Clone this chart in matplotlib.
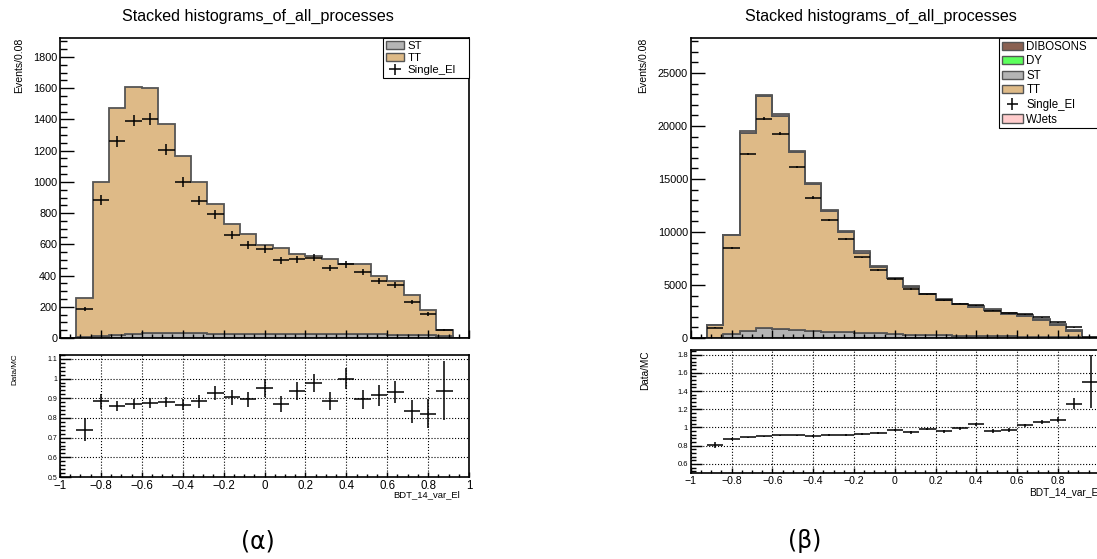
import numpy as np
import matplotlib.pyplot as plt
from matplotlib.patches import Patch
from matplotlib.ticker import MultipleLocator, FuncFormatter

plt.rcParams['font.family'] = ['Liberation Sans', 'DejaVu Sans']

# binning: 25 bins of 0.08 from -1 to 1
edges = np.round(np.linspace(-1.0, 1.0, 26), 2)
centers = 0.5 * (edges[:-1] + edges[1:])
nan = np.nan

# ---- (a) left canvas ----
st_a = [0, 8, 15, 22, 28, 33, 34, 32, 30, 28, 27, 26, 25, 25, 24, 24, 25, 24, 24, 23, 22, 20, 17, 10, 0]
tt_a = [0, 249, 987, 1451, 1582, 1570, 1336, 1135, 970, 828, 703, 642, 574, 549, 513, 500, 484,
        451, 451, 377, 344, 258, 165, 44, 0]
data_a = [0, 188, 884, 1259, 1393, 1404, 1205, 1002, 880, 792, 659, 595, 569, 499, 503, 514, 449,
          471, 422, 366, 342, 231, 152, 51, 0]
ratio_a = [nan, 0.741, 0.884, 0.860, 0.872, 0.877, 0.882, 0.867, 0.884, 0.928, 0.906, 0.894, 0.951,
           0.870, 0.938, 0.978, 0.884, 1.000, 0.894, 0.916, 0.933, 0.833, 0.822, 0.939, nan]
rerr_a = [nan, 0.058, 0.036, 0.027, 0.024, 0.024, 0.026, 0.029, 0.031, 0.037, 0.038, 0.039, 0.045,
          0.042, 0.046, 0.047, 0.046, 0.052, 0.048, 0.053, 0.056, 0.060, 0.075, 0.150, nan]

# ---- (b) right canvas ----
dib_b = [0, 1, 5, 10, 12, 12, 11, 10, 9, 8, 7, 6, 6, 5, 5, 5, 4, 4, 4, 3, 3, 3, 2, 1, 0]
dy_b = [0, 2, 15, 30, 35, 35, 30, 25, 22, 20, 18, 15, 13, 12, 10, 10, 9, 8, 8, 7, 6, 5, 4, 2, 0]
st_b = [0, 30, 315, 630, 870, 820, 725, 660, 580, 535, 470, 410, 350, 300, 260, 230, 200, 180, 160,
        140, 120, 100, 80, 50, 3]
tt_b = [0, 1155, 9348, 18705, 21907, 20097, 16771, 13825, 11365, 9428, 7553, 6248, 5248, 4485, 3839,
        3369, 2967, 2738, 2428, 2130, 1921, 1572, 1134, 637, 35]
wj_b = [0, 10, 60, 110, 130, 130, 120, 110, 100, 130, 150, 100, 90, 85, 80, 75, 70, 70, 100, 120, 130,
        150, 140, 100, 2]
data_b = [0, 967, 8535, 17360, 20705, 19260, 16120, 13240, 11110, 9310, 7600, 6386, 5540, 4620, 4120,
          3540, 3227, 3100, 2592, 2330, 2228, 1943, 1478, 994, 60]
ratio_b = [nan, 0.807, 0.876, 0.891, 0.902, 0.913, 0.913, 0.905, 0.920, 0.920, 0.927, 0.942, 0.971,
           0.945, 0.982, 0.960, 0.993, 1.033, 0.960, 0.971, 1.022, 1.062, 1.087, 1.258, 1.502]
rerr_b = [nan, 0.03, 0.01, 0.008, 0.007, 0.007, 0.008, 0.008, 0.009, 0.01, 0.011, 0.012, 0.013, 0.014,
          0.015, 0.016, 0.017, 0.018, 0.019, 0.02, 0.021, 0.024, 0.03, 0.06, 0.29]

colors = {'DIBOSONS': '#8a6152', 'DY': '#5cff5c', 'ST': '#b4b4b4', 'TT': '#deba87', 'WJets': '#ffcccc'}
line_col = '#555555'

W, H = 1097, 559
fig = plt.figure(figsize=(W / 100, H / 100), dpi=100)


def box(x0, y0, x1, y1):
    # pixel box -> figure fraction rect
    return [x0 / W, 1 - y1 / H, (x1 - x0) / W, (y1 - y0) / H]


def fmt(v, pos):
    s = '%g' % round(v, 6)
    return s.replace('-', '\u2212')


def style_axis(ax, xminor, ymajor, yminor, ylen, ymlen, xlen, xmlen, ylab, xlab):
    ax.set_xlim(-1, 1)
    ax.xaxis.set_major_locator(MultipleLocator(0.2))
    ax.xaxis.set_minor_locator(MultipleLocator(xminor))
    ax.yaxis.set_major_locator(MultipleLocator(ymajor))
    ax.yaxis.set_minor_locator(MultipleLocator(yminor))
    ax.tick_params(axis='y', which='major', direction='in', length=ylen, width=1.0, labelsize=ylab, pad=2)
    ax.tick_params(axis='y', which='minor', direction='in', length=ymlen, width=1.0)
    ax.tick_params(axis='x', which='major', direction='in', length=xlen, width=1.0, labelsize=xlab, pad=2.2)
    ax.tick_params(axis='x', which='minor', direction='in', length=xmlen, width=1.0)
    ax.yaxis.set_major_formatter(FuncFormatter(fmt))
    ax.xaxis.set_major_formatter(FuncFormatter(fmt))
    for s in ax.spines.values():
        s.set_linewidth(1.2)


def draw_canvas(top_rect, rat_rect, layers, data, ratio, rerr, ymax, ymaj, ymin,
                rlim, rmaj, rmin, label_sizes):
    ax = fig.add_axes(top_rect)
    axr = fig.add_axes(rat_rect)

    bottom = np.zeros(len(centers))
    handles = {}
    for name, vals in layers:
        top = bottom + np.array(vals, dtype=float)
        ax.stairs(top, edges, baseline=bottom, fill=True, facecolor=colors[name],
                  edgecolor=line_col, linewidth=1.3)
        handles[name] = Patch(facecolor=colors[name], edgecolor=line_col, linewidth=1.0)
        bottom = top

    d = np.array(data, dtype=float)
    m = d > 0
    eb = ax.errorbar(centers[m], d[m], xerr=0.04, yerr=np.sqrt(d[m]), fmt='none',
                     ecolor='black', elinewidth=1.1, capsize=0, zorder=5)
    handles['Single_El'] = eb

    ax.set_ylim(0, ymax)
    style_axis(ax, 0.05, ymaj, ymin, 10, 5, 6, 3, 7.8, 7)
    ax.tick_params(axis='x', labelbottom=False)

    axr.errorbar(centers, ratio, xerr=0.04, yerr=rerr, fmt='none', ecolor='black',
                 elinewidth=1.1, capsize=0, zorder=5)
    axr.set_ylim(*rlim)
    style_axis(axr, 0.05, rmaj, rmin, 8, 3.6, 3.6, 2, label_sizes[0], label_sizes[1])
    axr.grid(True, which='major', linestyle=':', color='black', linewidth=0.8)
    axr.set_axisbelow(True)
    return ax, axr, handles


def add_legend(ax, handles, order, x0, size, spacing, hlen):
    leg = ax.legend([handles[k] for k in order], order, loc='upper left',
                    bbox_to_anchor=(x0, 0, 1.0 - x0, 1.0), mode='expand', borderaxespad=0,
                    fontsize=size, frameon=True, fancybox=False, edgecolor='black', framealpha=1,
                    borderpad=0.25, labelspacing=spacing, handlelength=hlen, handletextpad=0.3)
    leg.get_frame().set_linewidth(0.8)


# left canvas
ax_a, axr_a, h_a = draw_canvas(box(60, 38, 469, 338), box(60, 355, 469, 477),
                               [('ST', st_a), ('TT', tt_a)], data_a, ratio_a, rerr_a,
                               1922, 200, 50, (0.5, 1.12), 0.1, 0.02, (5, 8.3))
add_legend(ax_a, h_a, ['ST', 'TT', 'Single_El'], 0.790, 8.2, 0.2, 1.6)

# right canvas (cut by the image edge)
ax_b, axr_b, h_b = draw_canvas(box(690.7, 38, 1098.7, 338), box(690.7, 350, 1098.7, 473),
                               [('DIBOSONS', dib_b), ('DY', dy_b), ('ST', st_b), ('TT', tt_b), ('WJets', wj_b)],
                               data_b, ratio_b, rerr_b,
                               28300, 5000, 1000, (0.5, 1.85), 0.2, 0.04, (5.5, 7.6))
add_legend(ax_b, h_b, ['DIBOSONS', 'DY', 'ST', 'TT', 'Single_El', 'WJets'], 0.756, 8.3, 0.22, 1.8)

# titles and axis labels
for xc in (258, 881):
    fig.text(xc / W, 1 - 16.5 / H, 'Stacked histograms_of_all_processes', ha='center', va='center', fontsize=11.6)
fig.text(19 / W, 1 - 38 / H, 'Events/0.08', rotation=90, ha='center', va='top', fontsize=7.6)
fig.text(643 / W, 1 - 38 / H, 'Events/0.08', rotation=90, ha='center', va='top', fontsize=7.6)
fig.text(15 / W, 1 - 353 / H, 'Data/MC', rotation=90, ha='center', va='top', fontsize=5.8)
fig.text(645 / W, 1 - 350 / H, 'Data/MC', rotation=90, ha='center', va='top', fontsize=7.2)
fig.text(460 / W, 1 - 495 / H, 'BDT_14_var_El', ha='right', va='center', fontsize=6.8)
fig.text(1101 / W, 1 - 492 / H, 'BDT_14_var_El', ha='right', va='center', fontsize=7.3)

# sub-figure captions
fig.text(258 / W, 1 - 541 / H, '(α)', ha='center', va='center', fontsize=17, family='DejaVu Sans')
fig.text(805 / W, 1 - 541 / H, '(β)', ha='center', va='center', fontsize=17, family='DejaVu Sans')

fig.savefig('out.png', dpi=100)
